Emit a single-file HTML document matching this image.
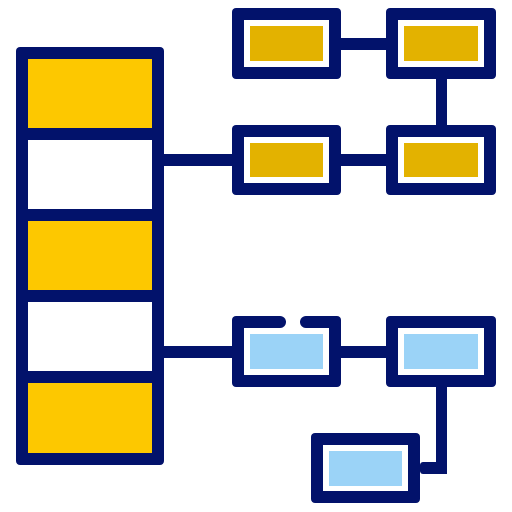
<!DOCTYPE html>
<html><head><style>html,body{margin:0;padding:0;background:#fff}svg{display:block}</style></head>
<body>
<svg width="512" height="512" viewBox="0 0 512 512" xmlns="http://www.w3.org/2000/svg">
<g fill="#02126B">
<rect x="16" y="47" width="148" height="418" rx="4"/>
<rect x="164" y="154" width="68" height="12"/>
<rect x="341" y="38" width="45" height="12"/>
<rect x="341" y="154" width="45" height="12"/>
<rect x="436" y="79" width="11" height="46"/>
<rect x="164" y="346" width="68" height="12"/>
<rect x="341" y="346" width="45" height="12"/>
<rect x="436" y="387" width="11" height="87"/>
<rect x="420" y="462" width="27" height="12" rx="3"/>
<rect x="232" y="8" width="109" height="71" rx="4"/>
<rect x="386" y="8" width="110" height="71" rx="4"/>
<rect x="232" y="125" width="109" height="70" rx="4"/>
<rect x="386" y="125" width="110" height="70" rx="4"/>
<rect x="232" y="316" width="109" height="71" rx="4"/>
<rect x="386" y="316" width="110" height="71" rx="4"/>
<rect x="311" y="433" width="109" height="70" rx="4"/>
</g>
<rect x="28" y="59" width="124" height="69" fill="#FDC800"/>
<rect x="28" y="140" width="124" height="69" fill="#fff"/>
<rect x="28" y="221" width="124" height="69" fill="#FDC800"/>
<rect x="28" y="302" width="124" height="69" fill="#fff"/>
<rect x="28" y="383" width="124" height="70" fill="#FDC800"/>
<g fill="#fff">
<rect x="244" y="20" width="85" height="47"/>
<rect x="398" y="20" width="86" height="47"/>
<rect x="244" y="137" width="85" height="46"/>
<rect x="398" y="137" width="86" height="46"/>
<rect x="244" y="328" width="85" height="47"/>
<rect x="398" y="328" width="86" height="47"/>
<rect x="323" y="445" width="85" height="46"/>
</g>
<!-- gap in top stroke -->
<rect x="272" y="314" width="42" height="14" fill="#fff"/>
<g fill="#02126B">
<rect x="272" y="316" width="8" height="12"/>
<circle cx="280" cy="322" r="6"/>
<rect x="306" y="316" width="8" height="12"/>
<circle cx="306" cy="322" r="6"/>
</g>
<g fill="#E3B200">
<rect x="250" y="26" width="73" height="35"/>
<rect x="404" y="26" width="74" height="35"/>
<rect x="250" y="143" width="73" height="34"/>
<rect x="404" y="143" width="74" height="34"/>
</g>
<g fill="#9BD3F7">
<rect x="250" y="334" width="73" height="35"/>
<rect x="404" y="334" width="74" height="35"/>
<rect x="329" y="451" width="73" height="35"/>
</g>
</svg>
</body></html>
